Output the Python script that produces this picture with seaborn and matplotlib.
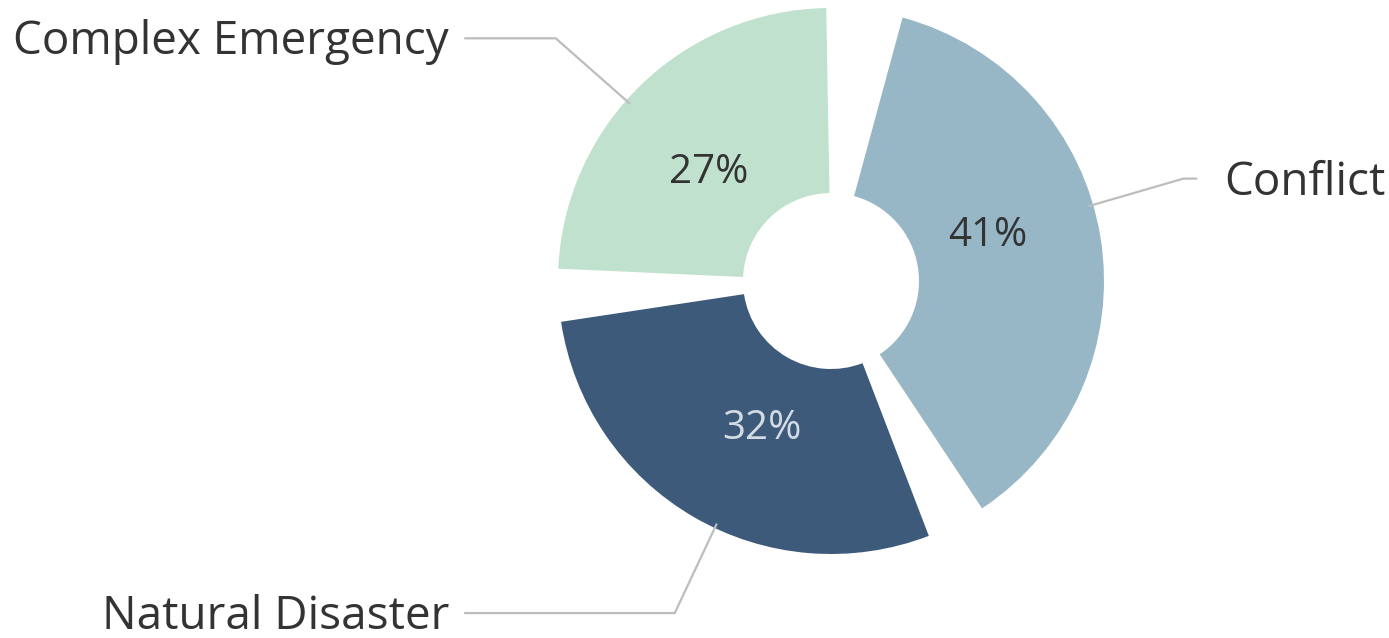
import numpy as np
import matplotlib.pyplot as plt
import seaborn as sns

# data
labels = ["Conflict", "Natural Disaster", "Complex Emergency"]
shares = [41, 32, 27]
colors = ["#97b6c6", "#3d5a7a", "#c0e1ce"]
pct_colors = ["#333333", "#d3dbe3", "#333333"]

sns.set_theme(style="white")
plt.rcParams["font.family"] = ["Open Sans", "DejaVu Sans"]

W, H = 1389, 638
fig = plt.figure(figsize=(W / 100, H / 100), dpi=100)
ax = fig.add_axes([0, 0, 1, 1])

# layout (pixels)
cx, cy = 831, 357
r_out, r_in = 273, 88
first = 15.2          # clock angle where the first wedge starts
gaps = [12.6, 11.2]   # blank degrees between wedges
deg_per_pct = 3.2

# build the pie with invisible spacer slices
vals, cols = [], []
for i, s in enumerate(shares):
    vals.append(s * deg_per_pct)
    cols.append(colors[i])
    if i < len(gaps):
        vals.append(gaps[i])
        cols.append("none")
vals.append(360 - sum(vals))
cols.append("none")

ax.pie(vals, colors=cols, startangle=90 - first, counterclock=False,
       radius=r_out, center=(cx, cy),
       wedgeprops=dict(width=r_out - r_in, linewidth=0))
ax.set_xlim(0, W)
ax.set_ylim(0, H)
ax.set_aspect("equal")
ax.axis("off")

# label anchors use the plain (un-padded) pie angles
cum = np.cumsum([0] + shares)
mids = (cum[:-1] + cum[1:]) / 2 * 3.6   # clock degrees


def pt(clock, r):
    t = np.radians(clock)
    return cx + r * np.sin(t), cy + r * np.cos(t)


for i, lab in enumerate(labels):
    px, py = pt(mids[i], 163)
    ax.text(px, py, f"{shares[i]}%", ha="center", va="center",
            fontsize=29, color=pct_colors[i])

    ax0, ay0 = pt(mids[i], r_out - 4)
    ex, ey = pt(mids[i], 367)
    if ex > cx:
        hx = ex + 13
        tx, ha = hx + 28, "left"
    else:
        hx = 465
        tx, ha = 449, "right"
    ax.plot([ax0, ex, hx], [ay0, ey, ey], color="#bdbdbd", lw=1.6,
            solid_joinstyle="miter")
    ax.text(tx, ey - 4, lab, ha=ha, va="center", fontsize=33, color="#333333")

fig.savefig("out.png", dpi=100, facecolor="white")
